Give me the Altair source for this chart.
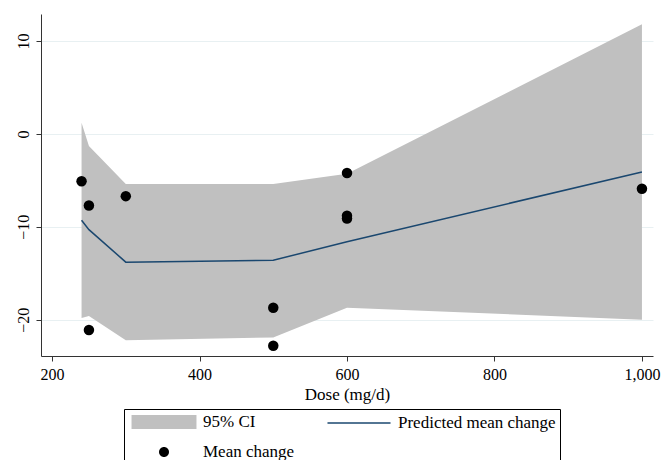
import altair as alt
import pandas as pd

# Predicted curve and 95% CI
dose_pred = [240, 250, 300, 500, 600, 1000]
pred_mean = [-9.3, -10.3, -13.8, -13.6, -11.6, -4.1]
ci_low = [-19.8, -19.6, -22.2, -21.9, -18.7, -20.0]
ci_high = [1.2, -1.3, -5.4, -5.4, -4.3, 11.8]

# Observed mean changes
dose_obs = [240, 250, 250, 300, 500, 500, 600, 600, 600, 1000]
mean_change = [-5.1, -7.7, -21.1, -6.7, -18.7, -22.8, -4.2, -8.8, -9.1, -5.9]

legend_labels = ["95% CI", "Predicted mean change", "Mean change"]
x_ticks = [200, 400, 600, 800, 1000]
y_ticks = [-20, -10, 0, 10]

FONT = "Liberation Serif"
CI_COLOR = "#c0c0c0"
LINE_COLOR = "#1a476f"

df_pred = pd.DataFrame({"dose": dose_pred, "pred": pred_mean, "lo": ci_low, "hi": ci_high})
df_obs = pd.DataFrame({"dose": dose_obs, "change": mean_change})

xscale = alt.Scale(domain=[185, 1015], nice=False, zero=False)
yscale = alt.Scale(domain=[-23.9, 12.9], nice=False, zero=False)

xaxis = alt.Axis(values=x_ticks, format=",d", title="Dose (mg/d)", grid=False,
                 tickSize=5, labelPadding=5, titlePadding=4, titleFontSize=17)
yaxis = alt.Axis(values=y_ticks, title=None, grid=True, gridColor="#e8f0f2", gridWidth=1,
                 tickSize=5, labelAngle=270, labelAlign="center", labelBaseline="bottom",
                 labelPadding=5)

area = alt.Chart(df_pred).mark_area(color=CI_COLOR, opacity=1).encode(
    x=alt.X("dose:Q", scale=xscale, axis=xaxis),
    y=alt.Y("lo:Q", scale=yscale, axis=yaxis),
    y2="hi:Q",
)

line = alt.Chart(df_pred).mark_line(color=LINE_COLOR, strokeWidth=1.5).encode(
    x=alt.X("dose:Q", scale=xscale),
    y=alt.Y("pred:Q", scale=yscale),
)

points = alt.Chart(df_obs).mark_circle(size=110, color="black", opacity=1).encode(
    x=alt.X("dose:Q", scale=xscale),
    y=alt.Y("change:Q", scale=yscale),
)

leg = alt.Legend(
    title=None,
    orient="none", legendX=83, legendY=395, columns=2, direction="horizontal",
    strokeColor="black", fillColor="white", padding=4,
    symbolSize=256, symbolStrokeWidth=1.5, symbolOffset=27,
    labelFont=FONT, labelFontSize=17, labelColor="black", labelOffset=30,
    columnPadding=28, rowPadding=11, labelLimit=300,
)

rect_path = "M-4.06,-0.875H4.06V0.875H-4.06Z"
line_path = "M-3.94,0H3.94"
dot_path = "M-0.625,0A0.625,0.625,0,1,0,0.625,0A0.625,0.625,0,1,0,-0.625,0Z"

legend_layer = alt.Chart(alt.Data(values=[{"k": legend_labels[0], "dose": None, "v": None}])).mark_point(
    filled=True, opacity=1
).encode(
    shape=alt.Shape("k:N", scale=alt.Scale(domain=legend_labels, range=[rect_path, line_path, dot_path]), legend=leg),
    fill=alt.Fill("k:N", scale=alt.Scale(domain=legend_labels, range=[CI_COLOR, "transparent", "black"]), legend=leg),
    stroke=alt.Stroke("k:N", scale=alt.Scale(domain=legend_labels, range=["transparent", LINE_COLOR, "transparent"]), legend=leg),
).transform_filter("datum.dose != null")

chart = alt.layer(area, line, points, legend_layer).properties(
    width=612, height=342,
    padding={"left": 41, "top": 14, "right": 9, "bottom": 104},
    autosize=alt.AutoSizeParams(type="none"),
).configure_view(stroke=None).configure_axis(
    labelFont=FONT, titleFont=FONT, labelFontSize=16, titleFontSize=16,
    titleFontWeight="normal", labelColor="black", titleColor="black",
    domainColor="#333333", tickColor="#333333", domainWidth=1, tickWidth=1,
)

chart.save("out.html", embed_options={"renderer": "svg", "actions": False})
